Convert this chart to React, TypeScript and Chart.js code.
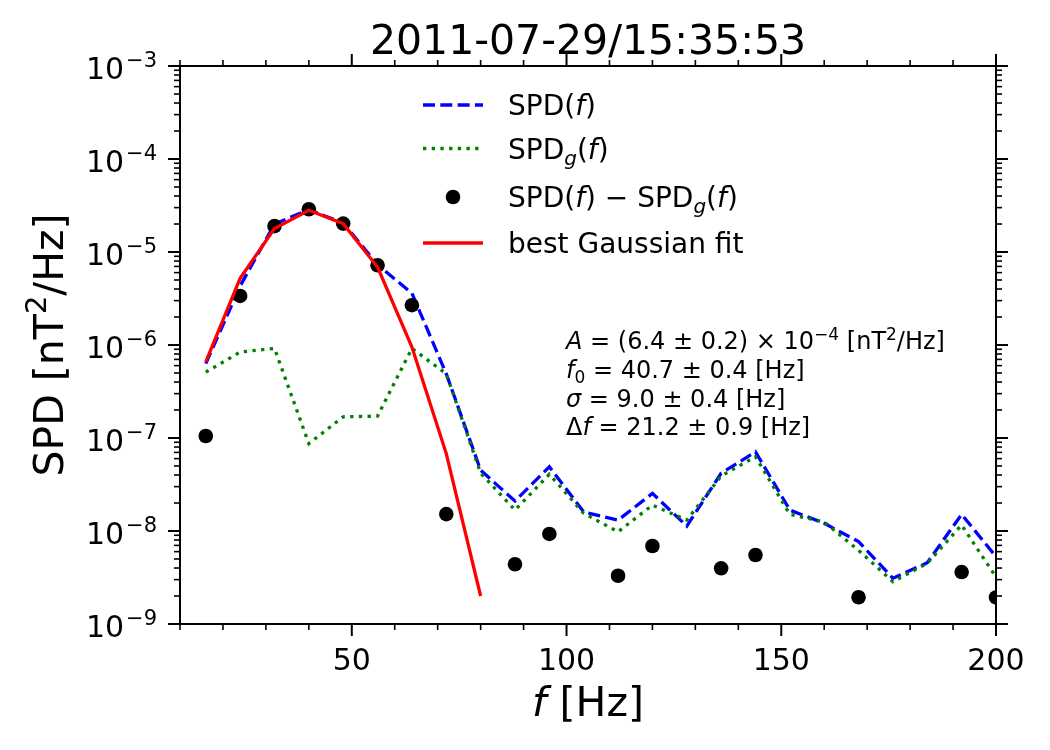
import React, { useEffect, useRef } from "react";
import { Chart, registerables } from "chart.js";

Chart.register(...registerables);

// ---------- data ----------
const FREQ = [16, 24, 32, 40, 48, 56, 64, 72, 80, 88, 96, 104, 112, 120, 128, 136, 144, 152, 160, 168, 176, 184, 192, 200];
const SPD = [6.3e-7, 4.3e-6, 2.0e-5, 2.85e-5, 2.05e-5, 7.3e-6, 3.6e-6, 4.9e-7, 4.5e-8, 2.1e-8, 4.9e-8, 1.6e-8, 1.31e-8, 2.54e-8, 1.13e-8, 4.17e-8, 7.1e-8, 1.68e-8, 1.21e-8, 7.7e-9, 3.1e-9, 4.56e-9, 1.51e-8, 5.3e-9];
const SPD_G = [5.1e-7, 8.4e-7, 9.2e-7, 8.7e-8, 1.69e-7, 1.72e-7, 9.2e-7, 4.9e-7, 4.2e-8, 1.68e-8, 4.07e-8, 1.55e-8, 9.8e-9, 1.9e-8, 1.31e-8, 3.9e-8, 6.3e-8, 1.51e-8, 1.25e-8, 6.2e-9, 2.85e-9, 4.5e-9, 1.16e-8, 3.2e-9];
const DIFF_FREQ = [16, 24, 32, 40, 48, 56, 64, 72, 88, 96, 112, 120, 136, 144, 168, 192, 200];
const DIFF = [1.05e-7, 3.37e-6, 1.9e-5, 2.88e-5, 2.02e-5, 7.2e-6, 2.68e-6, 1.52e-8, 4.39e-9, 9.3e-9, 3.3e-9, 6.9e-9, 3.97e-9, 5.52e-9, 1.94e-9, 3.62e-9, 1.93e-9];
const FIT_FREQ = [16, 24, 32, 40, 48, 56, 64, 72, 80];
const FIT = [6.6e-7, 5.2e-6, 1.79e-5, 2.81e-5, 2.02e-5, 6.9e-6, 9.5e-7, 6.8e-8, 2.0e-9];

const X_MIN = 10;
const X_MAX = 200;
const X_MAJOR = [50, 100, 150, 200];
const X_MINOR = [10, 20, 30, 40, 60, 70, 80, 90, 110, 120, 130, 140, 160, 170, 180, 190];
const Y_DECADES = [-9, -8, -7, -6, -5, -4, -3];

const TITLE = "2011-07-29/15:35:53";
const LEGEND_LABELS = ["SPD(f)", "SPD_g(f)", "SPD(f) − SPD_g(f)", "best Gaussian fit"];

// ---------- text helpers ----------
const FF = '"DejaVu Sans"';
type Run = { t: string; s: number; i?: boolean; dy?: number };
const fnt = (s: number, i?: boolean) => `${i ? "italic " : ""}${s}px ${FF}`;
function runsWidth(ctx: CanvasRenderingContext2D, runs: Run[]) {
  let w = 0;
  for (const r of runs) {
    ctx.font = fnt(r.s, r.i);
    w += ctx.measureText(r.t).width;
  }
  return w;
}
function drawRuns(ctx: CanvasRenderingContext2D, x: number, y: number, runs: Run[]) {
  for (const r of runs) {
    ctx.font = fnt(r.s, r.i);
    ctx.fillText(r.t, x, y + (r.dy || 0));
    x += ctx.measureText(r.t).width;
  }
}

const decorPlugin = {
  id: "decor",
  afterDraw(chart: any) {
    const ctx: CanvasRenderingContext2D = chart.ctx;
    const { left, right, top, bottom } = chart.chartArea;
    const xs = chart.scales.x;
    const ys = chart.scales.y;
    ctx.save();
    ctx.fillStyle = "#000";
    ctx.strokeStyle = "#000";
    ctx.textAlign = "left";
    ctx.textBaseline = "alphabetic";

    // spines
    ctx.lineWidth = 2;
    ctx.strokeRect(left, top, right - left, bottom - top);

    const line = (x1: number, y1: number, x2: number, y2: number) => {
      ctx.beginPath();
      ctx.moveTo(x1, y1);
      ctx.lineTo(x2, y2);
      ctx.stroke();
    };

    // x ticks
    ctx.lineWidth = 2;
    for (const v of X_MAJOR) {
      const px = xs.getPixelForValue(v);
      line(px, bottom, px, bottom + 12);
      line(px, top, px, top - 12);
    }
    ctx.lineWidth = 1.6;
    for (const v of X_MINOR) {
      const px = xs.getPixelForValue(v);
      line(px, bottom, px, bottom + 6);
      line(px, top, px, top - 6);
    }
    // y ticks
    ctx.lineWidth = 2;
    for (const k of Y_DECADES) {
      const py = ys.getPixelForValue(Math.pow(10, k));
      line(left - 12, py, left, py);
      line(right, py, right + 12, py);
    }
    ctx.lineWidth = 1.6;
    for (const k of Y_DECADES) {
      if (k >= -3) continue;
      for (let m = 2; m <= 9; m++) {
        const py = ys.getPixelForValue(m * Math.pow(10, k));
        line(left - 6, py, left, py);
        line(right, py, right + 6, py);
      }
    }

    // x tick labels
    ctx.font = fnt(30);
    ctx.textAlign = "center";
    for (const v of X_MAJOR) {
      ctx.fillText(String(v), xs.getPixelForValue(v), bottom + 46);
    }
    ctx.textAlign = "left";

    // y tick labels 10^k
    for (const k of Y_DECADES) {
      const py = ys.getPixelForValue(Math.pow(10, k));
      const runs: Run[] = [
        { t: "10", s: 30 },
        { t: " ", s: 6 },
        { t: "−" + String(-k), s: 21, dy: -11.6 },
      ];
      const w = runsWidth(ctx, runs);
      drawRuns(ctx, 157 - w, py + 12.6, runs);
    }

    // title
    ctx.font = fnt(41);
    ctx.textAlign = "center";
    ctx.fillText(TITLE, (left + right) / 2, 54);
    ctx.textAlign = "left";

    // x axis title
    const xt: Run[] = [
      { t: "f", s: 41, i: true },
      { t: " [Hz]", s: 41 },
    ];
    drawRuns(ctx, (left + right) / 2 - runsWidth(ctx, xt) / 2, 716, xt);

    // y axis title
    const yt: Run[] = [
      { t: "SPD [nT", s: 41 },
      { t: "2", s: 29, dy: -17 },
      { t: "/Hz]", s: 41 },
    ];
    ctx.save();
    ctx.translate(63, (top + bottom) / 2);
    ctx.rotate(-Math.PI / 2);
    drawRuns(ctx, -runsWidth(ctx, yt) / 2, 0, yt);
    ctx.restore();

    // legend
    const LX0 = 423, LX1 = 483, TX = 508;
    const rows = [105, 148.5, 197, 243];
    const FS = 28;
    const sub: Run = { t: "g", s: 20, i: true, dy: 6 };
    const legendRuns: Run[][] = [
      [{ t: "SPD(", s: FS }, { t: "f", s: FS, i: true }, { t: ")", s: FS }],
      [{ t: "SPD", s: FS }, sub, { t: "(", s: FS }, { t: "f", s: FS, i: true }, { t: ")", s: FS }],
      [
        { t: "SPD(", s: FS }, { t: "f", s: FS, i: true }, { t: ") − SPD", s: FS }, sub,
        { t: "(", s: FS }, { t: "f", s: FS, i: true }, { t: ")", s: FS },
      ],
      [{ t: LEGEND_LABELS[3], s: FS }],
    ];
    // handles
    ctx.lineCap = "butt";
    ctx.lineWidth = 3.3;
    ctx.strokeStyle = "#0000ff";
    ctx.setLineDash([12, 5.3]);
    line(LX0, rows[0], LX1, rows[0]);
    ctx.strokeStyle = "#008000";
    ctx.setLineDash([3.3, 5.4]);
    line(LX0, rows[1], LX1, rows[1]);
    ctx.setLineDash([]);
    ctx.beginPath();
    ctx.arc((LX0 + LX1) / 2, rows[2], 7.3, 0, Math.PI * 2);
    ctx.fillStyle = "#000";
    ctx.fill();
    ctx.strokeStyle = "#ff0000";
    line(LX0, rows[3], LX1, rows[3]);
    ctx.fillStyle = "#000";
    legendRuns.forEach((r, i) => drawRuns(ctx, TX, rows[i] + 10, r));

    // annotation
    const AS = 24;
    const SS = 17;
    const ann: Run[][] = [
      [
        { t: "A", s: AS, i: true }, { t: " = (6.4 ± 0.2) × 10", s: AS }, { t: "−4", s: SS, dy: -9.5 },
        { t: " [nT", s: AS }, { t: "2", s: SS, dy: -9.5 }, { t: "/Hz]", s: AS },
      ],
      [{ t: "f", s: AS, i: true }, { t: "0", s: SS, dy: 5 }, { t: " = 40.7 ± 0.4 [Hz]", s: AS }],
      [{ t: "σ", s: AS, i: true }, { t: " = 9.0 ± 0.4 [Hz]", s: AS }],
      [{ t: "Δ", s: AS }, { t: "f", s: AS, i: true }, { t: " = 21.2 ± 0.9 [Hz]", s: AS }],
    ];
    const annY = [349, 378, 406.7, 435];
    ann.forEach((r, i) => drawRuns(ctx, 566, annY[i], r));

    ctx.restore();
  },
};

export default function App() {
  const ref = useRef<HTMLCanvasElement | null>(null);
  useEffect(() => {
    if (!ref.current) return;
    const chart = new Chart(ref.current, {
      type: "line",
      data: {
        datasets: [
          {
            label: "best Gaussian fit",
            data: FIT_FREQ.map((x, i) => ({ x, y: FIT[i] })),
            borderColor: "#ff0000",
            borderWidth: 3.3,
            pointRadius: 0,
            fill: false,
            order: 0,
            clip: 0,
          } as any,
          {
            label: "SPD(f) − SPD_g(f)",
            data: DIFF_FREQ.map((x, i) => ({ x, y: DIFF[i] })),
            showLine: false,
            pointRadius: 7.3,
            pointBackgroundColor: "#000",
            pointBorderWidth: 0,
            borderColor: "#000",
            order: 1,
            clip: 0,
          } as any,
          {
            label: "SPD_g(f)",
            data: FREQ.map((x, i) => ({ x, y: SPD_G[i] })),
            borderColor: "#008000",
            borderWidth: 3.3,
            borderDash: [3.3, 5.4],
            borderCapStyle: "butt",
            pointRadius: 0,
            fill: false,
            order: 2,
            clip: 0,
          } as any,
          {
            label: "SPD(f)",
            data: FREQ.map((x, i) => ({ x, y: SPD[i] })),
            borderColor: "#0000ff",
            borderWidth: 3.3,
            borderDash: [12, 5.3],
            borderCapStyle: "butt",
            pointRadius: 0,
            fill: false,
            order: 3,
            clip: 0,
          } as any,
        ],
      },
      options: {
        animation: false,
        responsive: false,
        maintainAspectRatio: false,
        devicePixelRatio: 1,
        layout: { padding: { left: 180, top: 66, right: 54, bottom: 126 } },
        scales: {
          x: { type: "linear", min: X_MIN, max: X_MAX, display: false },
          y: { type: "logarithmic", min: 1e-9, max: 1e-3, display: false },
        },
        plugins: {
          legend: { display: false },
          tooltip: { enabled: false },
          title: { display: false },
        },
        events: [],
      },
      plugins: [decorPlugin],
    });
    return () => chart.destroy();
  }, []);
  return (
    <div style={{ position: "absolute", left: 0, top: 0, width: 1050, height: 750, background: "#fff" }}>
      <canvas ref={ref} width={1050} height={750} style={{ display: "block", width: 1050, height: 750 }} />
    </div>
  );
}
